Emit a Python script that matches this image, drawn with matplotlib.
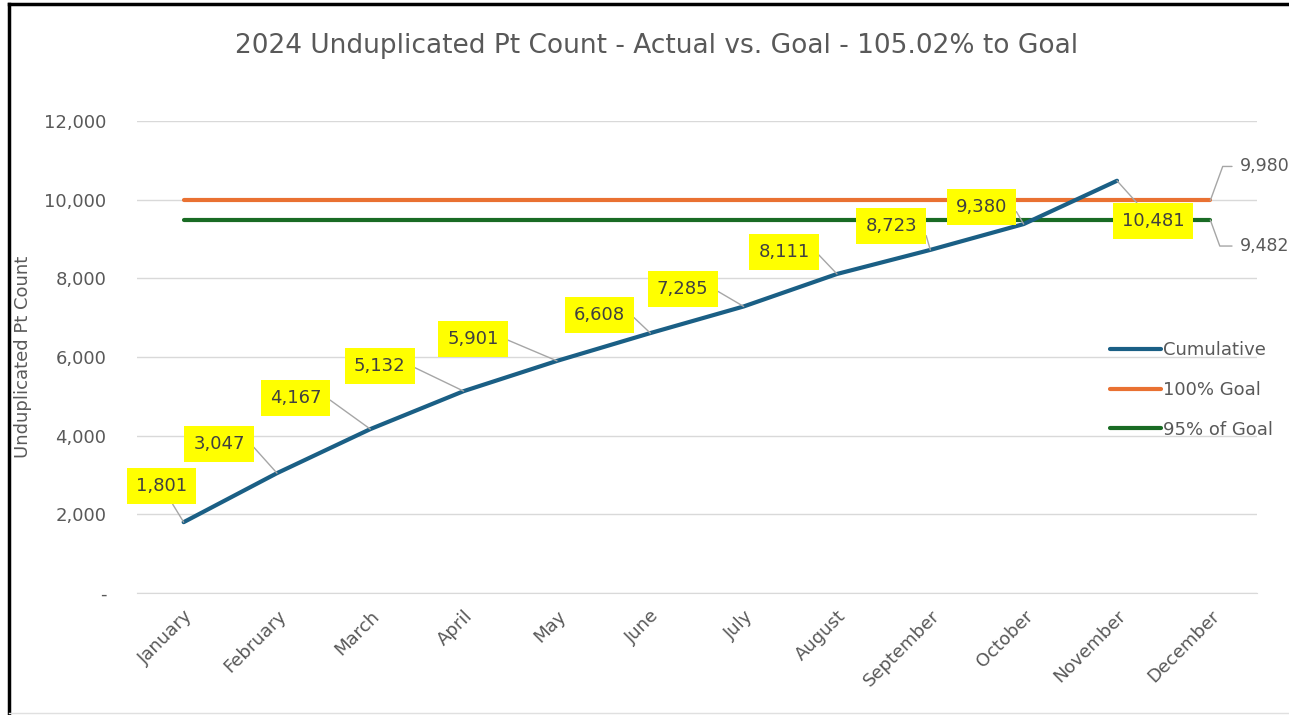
import numpy as np
import matplotlib
matplotlib.use("Agg")
from matplotlib import pyplot as plt
from matplotlib.lines import Line2D
from matplotlib.ticker import FuncFormatter

months = ["January", "February", "March", "April", "May", "June", "July",
          "August", "September", "October", "November", "December"]
cumulative = [1801, 3047, 4167, 5132, 5901, 6608, 7285, 8111, 8723, 9380, 10481]
goal_100 = [9980] * 12
goal_95 = [9482] * 12

# label offsets in pixels (dx, dy) from each point
label_offsets = [(-22, 36), (-58, 29), (-75, 31), (-84, 25), (-84, 22), (-51, 18),
                 (-61, 17), (-53, 22), (-39, 24), (-42, 17), (36, -40)]

grey = "#595959"
blue = "#1a5f85"
orange = "#e97132"
green = "#196b24"
leader = "#a6a6a6"

fig = plt.figure(figsize=(12.89, 7.15), dpi=100)
ax = fig.add_axes([137 / 1289, 122 / 715, 1120 / 1289, 472 / 715])

x = np.arange(len(months))
ax.plot(x[:len(cumulative)], cumulative, color=blue, lw=3, label="Cumulative",
        solid_capstyle="round", zorder=4)
ax.plot(x, goal_100, color=orange, lw=3, label="100% Goal", solid_capstyle="round", zorder=3)
ax.plot(x, goal_95, color=green, lw=3, label="95% of Goal", solid_capstyle="round", zorder=3)

ax.set_xlim(-0.5, 11.5)
ax.set_ylim(0, 12000)
ax.set_yticks(np.arange(0, 12001, 2000))
ax.yaxis.set_major_formatter(FuncFormatter(lambda v, p: "-" if v == 0 else f"{v:,.0f}"))
ax.set_xticks(x)
ax.set_xticklabels(months, rotation=45, ha="right", rotation_mode="anchor")
ax.tick_params(axis="both", length=0, labelsize=13, colors=grey)
ax.tick_params(axis="y", pad=22)
ax.tick_params(axis="x", pad=10)
ax.grid(axis="y", color="#d9d9d9", lw=1)
ax.set_axisbelow(True)
for s in ["top", "right", "left"]:
    ax.spines[s].set_visible(False)
ax.spines["bottom"].set_color("#d9d9d9")

ax.set_ylabel("Unduplicated Pt Count", fontsize=13, color=grey)
ax.yaxis.set_label_coords(-105 / 1120, 0.5)

# data labels
for i, (v, (dx, dy)) in enumerate(zip(cumulative, label_offsets)):
    if i == 0 or dx > 0:
        conn = "arc3,rad=0"
    else:
        conn = "arc,angleA=0,angleB=0,armA=32,armB=0,rad=0"
    ax.annotate(f"{v:,}", xy=(x[i], v), xytext=(dx, dy), textcoords="offset pixels",
                ha="center", va="center", fontsize=13, color="#404040", zorder=6,
                bbox=dict(boxstyle="square,pad=0.5", fc="#ffff00", ec="none"),
                arrowprops=dict(arrowstyle="-", color=leader, lw=1, shrinkA=0, shrinkB=0,
                                connectionstyle=conn))

ax.annotate(f"{goal_100[-1]:,}", xy=(x[-1], goal_100[-1]), xytext=(30, 34),
            textcoords="offset pixels", ha="left", va="center", fontsize=12.5, color=grey,
            annotation_clip=False,
            arrowprops=dict(arrowstyle="-", color=leader, lw=1, shrinkA=4, shrinkB=0,
                            connectionstyle="angle,angleA=0,angleB=70,rad=0"))
ax.annotate(f"{goal_95[-1]:,}", xy=(x[-1], goal_95[-1]), xytext=(30, -26),
            textcoords="offset pixels", ha="left", va="center", fontsize=12.5, color=grey,
            annotation_clip=False,
            arrowprops=dict(arrowstyle="-", color=leader, lw=1, shrinkA=4, shrinkB=0,
                            connectionstyle="angle,angleA=0,angleB=-70,rad=0"))

fig.legend(loc="center left", bbox_to_anchor=(1110 / 1289, 1 - 390 / 715), frameon=False,
           fontsize=13, labelcolor=grey, handlelength=2.8, handletextpad=0.15,
           labelspacing=1.2, borderpad=0, borderaxespad=0)

fig.text(657 / 1289, 1 - 46 / 715, "2024 Unduplicated Pt Count - Actual vs. Goal - 105.02% to Goal",
         ha="center", va="center", fontsize=19, color=grey)

# outer frame from the screenshot
fig.add_artist(Line2D([9 / 1289, 9 / 1289], [0, 1 - 4 / 715], color="black", lw=2.5))
fig.add_artist(Line2D([9 / 1289, 1], [1 - 4 / 715, 1 - 4 / 715], color="black", lw=2.5))
fig.add_artist(Line2D([9 / 1289, 1], [2 / 715, 2 / 715], color="#e0e0e0", lw=1))

fig.savefig("out.png", dpi=100)
